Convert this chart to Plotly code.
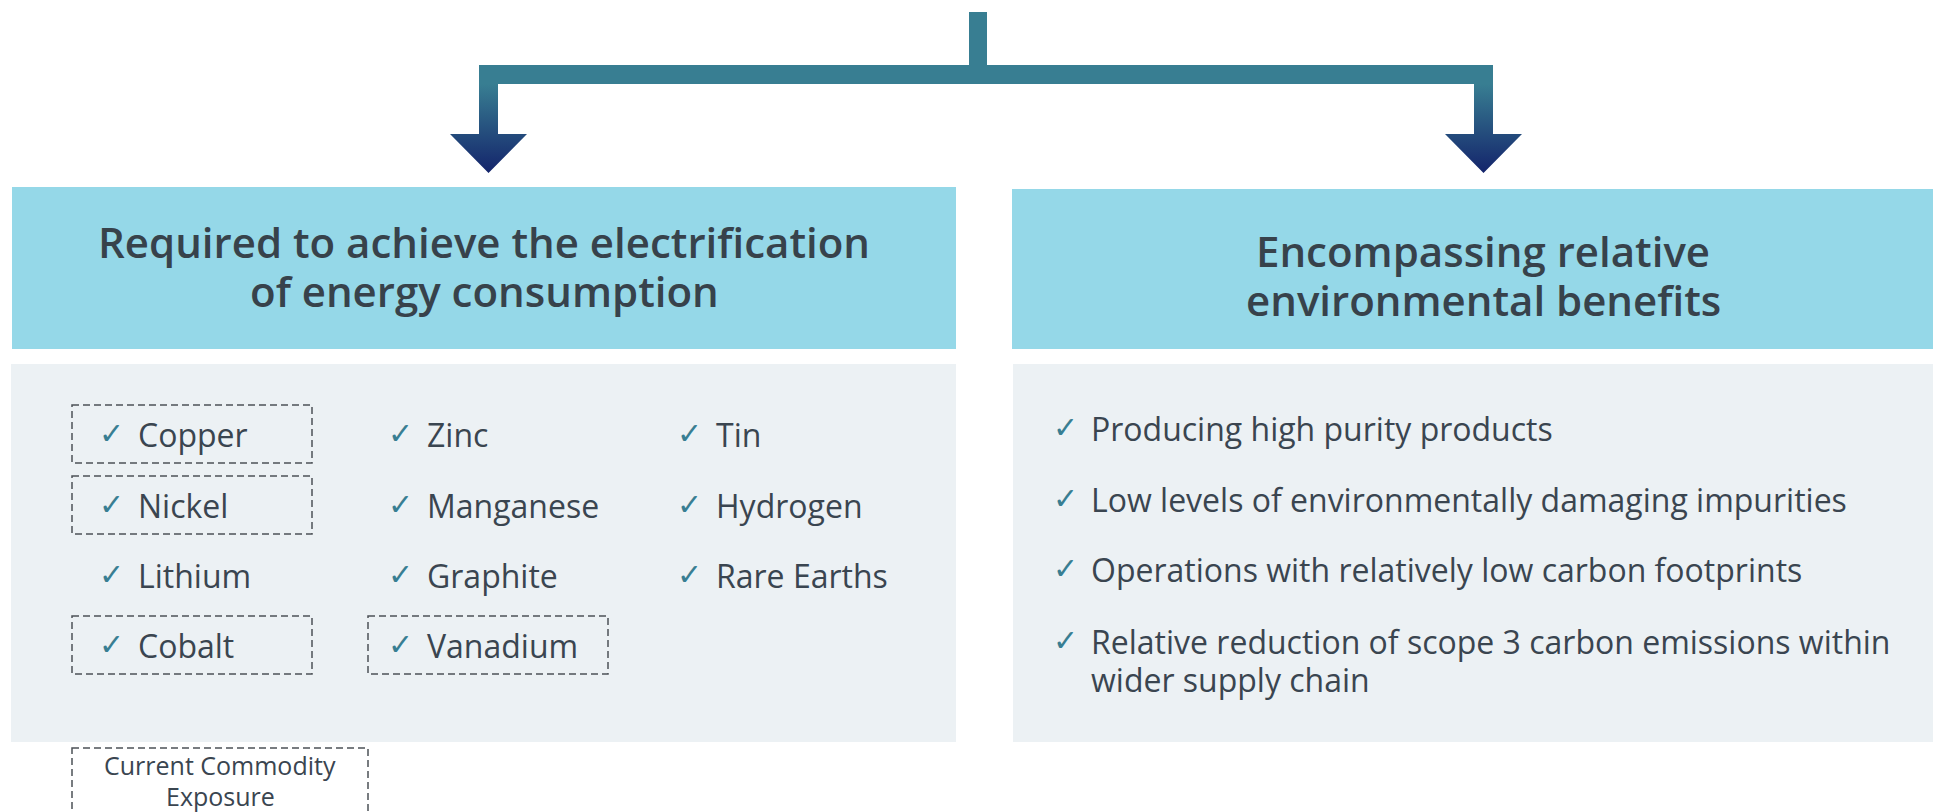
import plotly.graph_objects as go

# content
headers = ["Required to achieve the electrification\nof energy consumption",
           "Encompassing relative\nenvironmental benefits"]
commodities = ["Copper", "Nickel", "Lithium", "Cobalt",
               "Zinc", "Manganese", "Graphite", "Vanadium",
               "Tin", "Hydrogen", "Rare Earths"]
exposure = [True, True, False, True,
            False, False, False, True,
            False, False, False]
benefits = ["Producing high purity products",
            "Low levels of environmentally damaging impurities",
            "Operations with relatively low carbon footprints",
            "Relative reduction of scope 3 carbon emissions within\nwider supply chain"]
legend_text = "Current Commodity\nExposure"

W, H = 1941, 812
OFF = 8  # page body margin, so data units == page pixels
TEAL = "#387E92"
NAVY = "#14246B"
HEAD_FILL = "#95D8E8"
BODY_FILL = "#ECF1F4"
HEAD_TXT = "#37424B"
BODY_TXT = "#3A4550"
DASH = "#4C5157"
FONT = "Open Sans"

fig = go.Figure()
shapes = []
ann = []

def rect(x0, y0, x1, y1, fill, line=None):
    d = dict(type="rect", xref="x", yref="y", x0=x0, y0=y0, x1=x1, y1=y1,
             fillcolor=fill, layer="below")
    d["line"] = line if line else dict(width=0)
    return d

def dashed(x0, y0, x1, y1):
    return dict(type="rect", xref="x", yref="y", x0=x0, x1=x1, y0=y0, y1=y1,
                line=dict(color=DASH, width=1.5, dash="7px,4px"),
                fillcolor="rgba(0,0,0,0)", layer="above")

def text(x, y, s, size, color, xanchor="left", weight=400, family=FONT):
    ann.append(dict(x=x, y=y, xref="x", yref="y", text=s, showarrow=False,
                    xanchor=xanchor, yanchor="middle",
                    font=dict(family=family, size=size, color=color, weight=weight)))

# connector: stem + horizontal bar
shapes.append(rect(969, 12, 987, 66, TEAL))
shapes.append(rect(479, 65, 1493, 84, TEAL))

# two down arrows with a teal->navy gradient
for sx, cx in [(479, 488.5), (1474, 1483.5)]:
    xs = [sx, sx + 19, sx + 19, cx + 38.5, cx, cx - 38.5, sx, sx]
    ys = [83, 83, 134, 134, 173, 134, 134, 83]
    fig.add_trace(go.Scatter(x=xs, y=ys, mode="lines", fill="toself",
                             line=dict(width=0, color=TEAL),
                             fillgradient=dict(type="vertical", start=84, stop=173,
                                               colorscale=[[0, TEAL], [1, NAVY]]),
                             hoverinfo="skip", showlegend=False))

# header and body panels
panels = [(12, 956, 484, 241, 187), (1012, 1960, 1483, 250, 189)]
for (x0, x1, cx, ty, top), head in zip(panels, headers):
    shapes.append(rect(x0, top, x1, 349, HEAD_FILL))
    shapes.append(rect(x0 + (1 if x0 > 500 else -1), 364, x1, 742, BODY_FILL))
    for i, line in enumerate(head.split("\n")):
        text(cx, ty + i * 49, line, 42, HEAD_TXT, xanchor="center", weight=600)

# commodity grid
col_check = [99, 388, 677]
col_box = [72, 368, 657]
row_y = [434, 505, 575, 645]
for i, (name, exp) in enumerate(zip(commodities, exposure)):
    c, r = i // 4, i % 4
    y = row_y[r]
    text(col_check[c] - 2, y - 1, "✓", 30, TEAL, family="DejaVu Sans")
    text(col_check[c] + 37, y, name, 32, BODY_TXT)
    if exp:
        shapes.append(dashed(col_box[c], y - 29, col_box[c] + 240, y + 29))

# legend box
shapes.append(dashed(72, 748, 368, 840))
for i, line in enumerate(legend_text.split("\n")):
    text(220, 765 + i * 31, line, 25, BODY_TXT, xanchor="center")

# benefits list
by = [428, 499, 569, 641]
for y, b in zip(by, benefits):
    text(1051, y - 1, "✓", 30, TEAL, family="DejaVu Sans")
    for j, line in enumerate(b.split("\n")):
        text(1089, y + j * 38, line, 32, BODY_TXT)

fig.update_layout(
    width=W, height=H,
    margin=dict(l=0, r=0, t=0, b=0),
    paper_bgcolor="white", plot_bgcolor="white",
    xaxis=dict(range=[OFF, W + OFF], visible=False, fixedrange=True),
    yaxis=dict(range=[H + OFF, OFF], visible=False, fixedrange=True),
    shapes=shapes, annotations=ann, showlegend=False,
)
fig.write_html("out.html")
